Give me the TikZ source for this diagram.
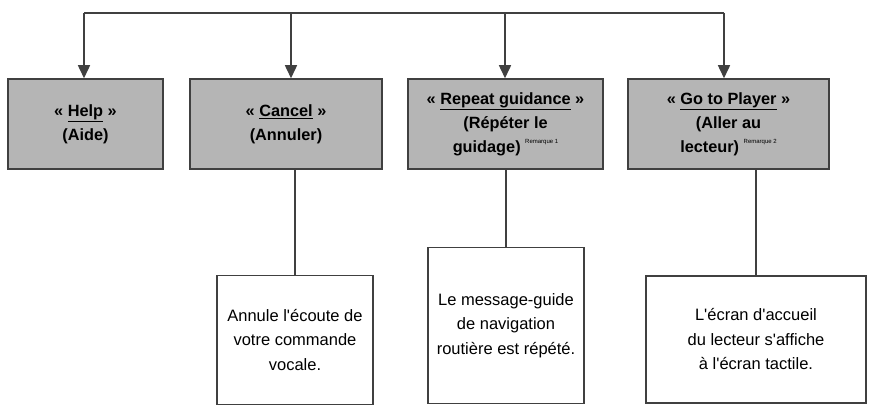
\documentclass[tikz,border=0pt]{standalone}
\usepackage{fontspec}
\setmainfont{Liberation Sans}
\usetikzlibrary{arrows.meta}
\definecolor{linegray}{HTML}{404040}
\definecolor{boxgray}{HTML}{B5B5B5}
\newcommand{\remark}[1]{\raisebox{0.55em}{\fontsize{6}{6}\selectfont\mdseries #1}}
\newcommand{\apos}{\textquotesingle}
\begin{document}
\begin{tikzpicture}[x=1pt,y=-1pt,
  graybox/.style={draw=linegray, line width=1.5pt, fill=boxgray, inner sep=0pt,
    minimum height=90pt, align=center, font=\bfseries\fontsize{16.3}{24}\selectfont},
  whitebox/.style={draw=linegray, line width=1.5pt, fill=white, inner sep=0pt,
    align=center, font=\fontsize{16.5}{24.5}\selectfont},
  conn/.style={draw=linegray, line width=1.5pt},
  arr/.style={conn, -{Triangle[length=13pt,width=12pt]}}]
\useasboundingbox (0,0) rectangle (870,406);
\fill[white] (0,0) rectangle (870,406);

\node[graybox, minimum width=155pt] (help) at (85.5,124) {« \underline{Help} »\\(Aide)};
\node[graybox, minimum width=192pt] (cancel) at (286,124) {« \underline{Cancel} »\\(Annuler)};
\node[graybox, minimum width=195pt] (repeat) at (505.5,124) {« \underline{Repeat guidance} »\\(Répéter le\\guidage) \remark{Remarque 1}};
\node[graybox, minimum width=201pt] (goto) at (728.5,124) {« \underline{Go to Player} »\\(Aller au\\lecteur) \remark{Remarque 2}};

\node[whitebox, minimum width=156pt, minimum height=129pt] (w1) at (295,340) {Annule l\apos écoute de\\votre commande\\vocale.};
\node[whitebox, minimum width=156pt, minimum height=156pt] (w2) at (506,325.5) {Le message-guide\\de navigation\\routière est répété.};
\node[whitebox, minimum width=220pt, minimum height=127pt] (w3) at (756,339.5) {L\apos écran d\apos accueil\\du lecteur s\apos affiche\\à l\apos écran tactile.};

\coordinate (t1) at (84,13);
\coordinate (t2) at (291,13);
\coordinate (t3) at (505,13);
\coordinate (t4) at (724,13);

\draw[conn] (t1) -- (t4);
\draw[arr] (t1) -- (t1 |- help.north);
\draw[arr] (t2) -- (t2 |- cancel.north);
\draw[arr] (t3) -- (t3 |- repeat.north);
\draw[arr] (t4) -- (t4 |- goto.north);

\draw[conn] (cancel.south -| w1.north) -- (w1.north);
\draw[conn] (repeat.south -| w2.north) -- (w2.north);
\draw[conn] (goto.south -| w3.north) -- (w3.north);
\end{tikzpicture}
\end{document}
